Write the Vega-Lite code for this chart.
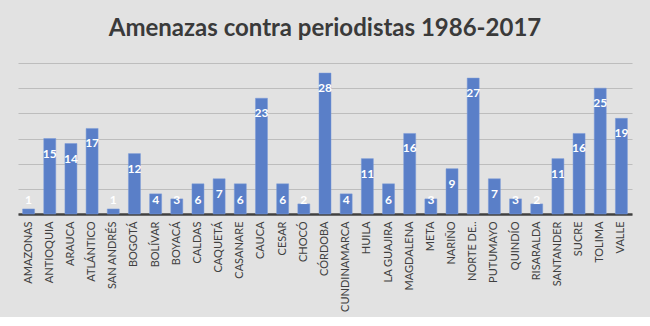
{
  "$schema": "https://vega.github.io/schema/vega-lite/v6.json",
  "width": 614,
  "height": 151,
  "autosize": {"type": "pad"},
  "padding": {"left": 18, "right": 18, "top": 17, "bottom": 5},
  "background": "#e2e2e2",
  "title": {
    "text": "Amenazas contra periodistas 1986-2017",
    "font": "Lato",
    "fontSize": 24,
    "fontWeight": "bold",
    "color": "#3a3a3a",
    "anchor": "middle",
    "offset": 22
  },
  "config": {"view": {"stroke": null}},
  "data": {
    "values": [
      {"dep": "AMAZONAS", "n": 1},
      {"dep": "ANTIOQUIA", "n": 15},
      {"dep": "ARAUCA", "n": 14},
      {"dep": "ATLÁNTICO", "n": 17},
      {"dep": "SAN ANDRÉS", "n": 1},
      {"dep": "BOGOTÁ", "n": 12},
      {"dep": "BOLÍVAR", "n": 4},
      {"dep": "BOYACÁ", "n": 3},
      {"dep": "CALDAS", "n": 6},
      {"dep": "CAQUETÁ", "n": 7},
      {"dep": "CASANARE", "n": 6},
      {"dep": "CAUCA", "n": 23},
      {"dep": "CESAR", "n": 6},
      {"dep": "CHOCÓ", "n": 2},
      {"dep": "CÓRDOBA", "n": 28},
      {"dep": "CUNDINAMARCA", "n": 4},
      {"dep": "HUILA", "n": 11},
      {"dep": "LA GUAJIRA", "n": 6},
      {"dep": "MAGDALENA", "n": 16},
      {"dep": "META", "n": 3},
      {"dep": "NARIÑO", "n": 9},
      {"dep": "NORTE DE..", "n": 27},
      {"dep": "PUTUMAYO", "n": 7},
      {"dep": "QUINDÍO", "n": 3},
      {"dep": "RISARALDA", "n": 2},
      {"dep": "SANTANDER", "n": 11},
      {"dep": "SUCRE", "n": 16},
      {"dep": "TOLIMA", "n": 25},
      {"dep": "VALLE", "n": 19}
    ]
  },
  "encoding": {
    "x": {
      "field": "dep",
      "type": "nominal",
      "sort": null,
      "axis": {
        "title": null,
        "labelAngle": -90,
        "labelFont": "Lato",
        "labelFontSize": 11,
        "labelColor": "#404040",
        "labelPadding": 7,
        "ticks": false,
        "domainColor": "#404040",
        "domainWidth": 2.5
      }
    }
  },
  "layer": [
    {
      "mark": {"type": "bar", "color": "#5a7fc8", "width": 12, "stroke": "#7a9bd8", "strokeWidth": 0.5},
      "encoding": {
        "y": {
          "field": "n",
          "type": "quantitative",
          "scale": {"domain": [0, 30], "nice": false},
          "axis": {
            "values": [0, 5, 10, 15, 20, 25, 30],
            "tickCount": 7,
            "labels": false,
            "ticks": false,
            "domain": false,
            "title": null,
            "gridColor": "#bdbdbd",
            "gridWidth": 1
          }
        }
      }
    },
    {
      "transform": [{"filter": "datum.n > 6"}],
      "mark": {"type": "text", "dy": 15, "color": "white", "font": "Lato", "fontWeight": "bold", "fontSize": 12, "baseline": "middle"},
      "encoding": {
        "y": {"field": "n", "type": "quantitative"},
        "text": {"field": "n", "type": "quantitative"}
      }
    },
    {
      "transform": [{"filter": "datum.n <= 6"}],
      "mark": {"type": "text", "color": "white", "font": "Lato", "fontWeight": "bold", "fontSize": 12, "baseline": "middle"},
      "encoding": {
        "y": {"datum": 2.8, "type": "quantitative"},
        "text": {"field": "n", "type": "quantitative"}
      }
    }
  ]
}
